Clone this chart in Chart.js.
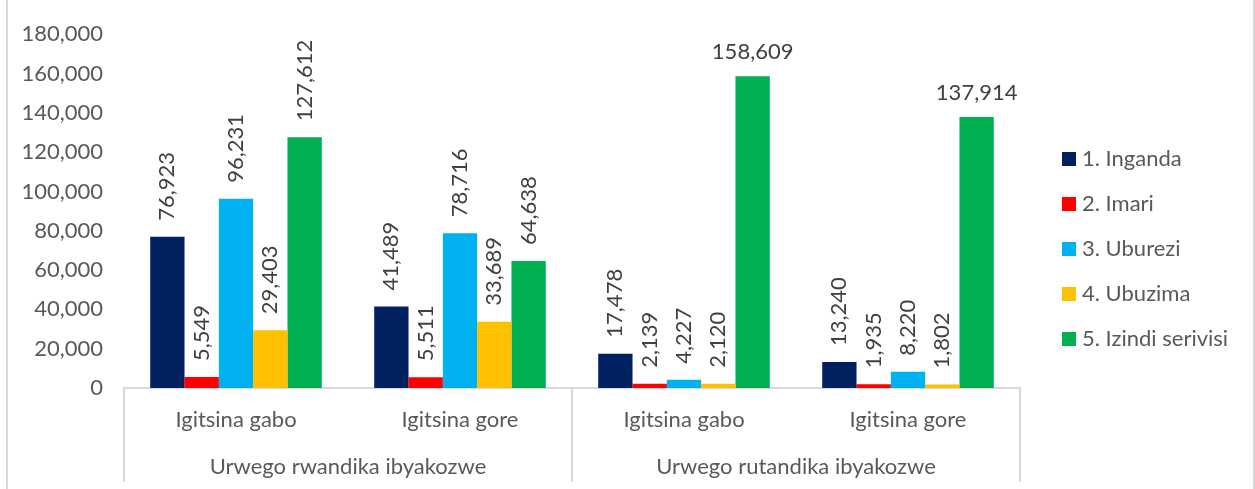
<!DOCTYPE html>
<html>
<head>
<meta charset="utf-8">
<script src="https://cdn.jsdelivr.net/npm/chart.js@4.4.1/dist/chart.umd.min.js"></script>
<style>
  body { margin: 0; background: #fff; }
  #wrap {
    position: absolute; left: 6px; top: 0; width: 1249px; height: 489px;
    box-sizing: border-box;
    border-left: 2px solid #d9d9d9; border-right: 2px solid #d9d9d9;
  }
</style>
</head>
<body>
<div id="wrap"><canvas id="chart" width="1245" height="489"></canvas></div>
<script>
const categories = ['Igitsina gabo', 'Igitsina gore', 'Igitsina gabo', 'Igitsina gore'];
const groups = ['Urwego rwandika ibyakozwe', 'Urwego rutandika ibyakozwe'];
const seriesNames = ['1. Inganda', '2. Imari', '3. Uburezi', '4. Ubuzima', '5. Izindi serivisi'];
const inganda = [76923, 41489, 17478, 13240];
const imari = [5549, 5511, 2139, 1935];
const uburezi = [96231, 78716, 4227, 8220];
const ubuzima = [29403, 33689, 2120, 1802];
const izindi = [127612, 64638, 158609, 137914];
const colors = ['#002060', '#FF0000', '#00B0F0', '#FFC000', '#00B050'];

const FONT = 'Lato, "Open Sans", sans-serif';
const SIZE = 22;
const fmt = v => v.toLocaleString('en-US');

const overlay = {
  id: 'overlay',
  afterDatasetsDraw(chart) {
    const { ctx, chartArea } = chart;
    ctx.save();
    ctx.font = SIZE + 'px ' + FONT;
    ctx.fillStyle = '#404040';
    chart.data.datasets.forEach((ds, i) => {
      chart.getDatasetMeta(i).data.forEach((bar, j) => {
        const txt = fmt(ds.data[j]);
        const w = ctx.measureText(txt).width;
        const y0 = bar.y - 16;
        if (y0 - w < chartArea.top) {
          // no room for rotated label, put it flat above the bar
          ctx.textAlign = 'center';
          ctx.textBaseline = 'alphabetic';
          ctx.fillText(txt, bar.x, bar.y - 17);
        } else {
          ctx.save();
          ctx.translate(bar.x, y0);
          ctx.rotate(-Math.PI / 2);
          ctx.textAlign = 'left';
          ctx.textBaseline = 'middle';
          ctx.fillText(txt, 0, 0);
          ctx.restore();
        }
      });
    });
    ctx.restore();
  },
  afterDraw(chart) {
    const { ctx, chartArea } = chart;
    const x = chart.scales.x;
    ctx.save();
    // group separators on the category axis
    const per = categories.length / groups.length;
    const edges = [x.left];
    for (let g = 1; g < groups.length; g++) {
      edges.push((x.getPixelForValue(g * per - 1) + x.getPixelForValue(g * per)) / 2);
    }
    edges.push(x.right);
    ctx.strokeStyle = '#d9d9d9';
    ctx.lineWidth = 2;
    edges.forEach(e => {
      ctx.beginPath();
      ctx.moveTo(e, chartArea.bottom);
      ctx.lineTo(e, chartArea.bottom + 94);
      ctx.stroke();
    });
    ctx.font = SIZE + 'px ' + FONT;
    ctx.fillStyle = '#595959';
    ctx.textAlign = 'center';
    ctx.textBaseline = 'middle';
    groups.forEach((g, i) => {
      ctx.fillText(g, (edges[i] + edges[i + 1]) / 2, chartArea.bottom + 79);
    });
    // legend
    const lx = chartArea.right + 42;
    ctx.textAlign = 'left';
    chart.data.datasets.forEach((ds, i) => {
      const cy = 159 + i * 45;
      ctx.fillStyle = ds.backgroundColor;
      ctx.fillRect(lx, cy - 7, 14, 14);
      ctx.fillStyle = '#595959';
      ctx.fillText(ds.label, lx + 20, cy);
    });
    ctx.restore();
  }
};

const series = [inganda, imari, uburezi, ubuzima, izindi];

new Chart(document.getElementById('chart'), {
  type: 'bar',
  data: {
    labels: categories,
    datasets: series.map((d, i) => ({
      label: seriesNames[i],
      data: d,
      backgroundColor: colors[i],
      borderWidth: 0,
      barPercentage: 1,
      categoryPercentage: 0.766
    }))
  },
  options: {
    responsive: false,
    animation: false,
    layout: { padding: { top: 33, right: 233, bottom: 0, left: 0 } },
    scales: {
      x: {
        grid: { display: false, drawTicks: false },
        border: { display: true, color: '#d9d9d9', width: 2 },
        ticks: { color: '#595959', font: { family: FONT, size: SIZE }, padding: 19, maxRotation: 0 },
        afterFit(scale) { scale.height = 101; }
      },
      y: {
        min: 0,
        max: 180000,
        grid: { display: false, drawTicks: false },
        border: { display: false },
        ticks: {
          stepSize: 20000,
          color: '#595959',
          font: { family: FONT, size: SIZE },
          padding: 21,
          callback: v => fmt(v)
        },
        afterFit(scale) { scale.width = 116; }
      }
    },
    plugins: {
      legend: { display: false },
      tooltip: { enabled: false }
    }
  },
  plugins: [overlay]
});
</script>
</body>
</html>
